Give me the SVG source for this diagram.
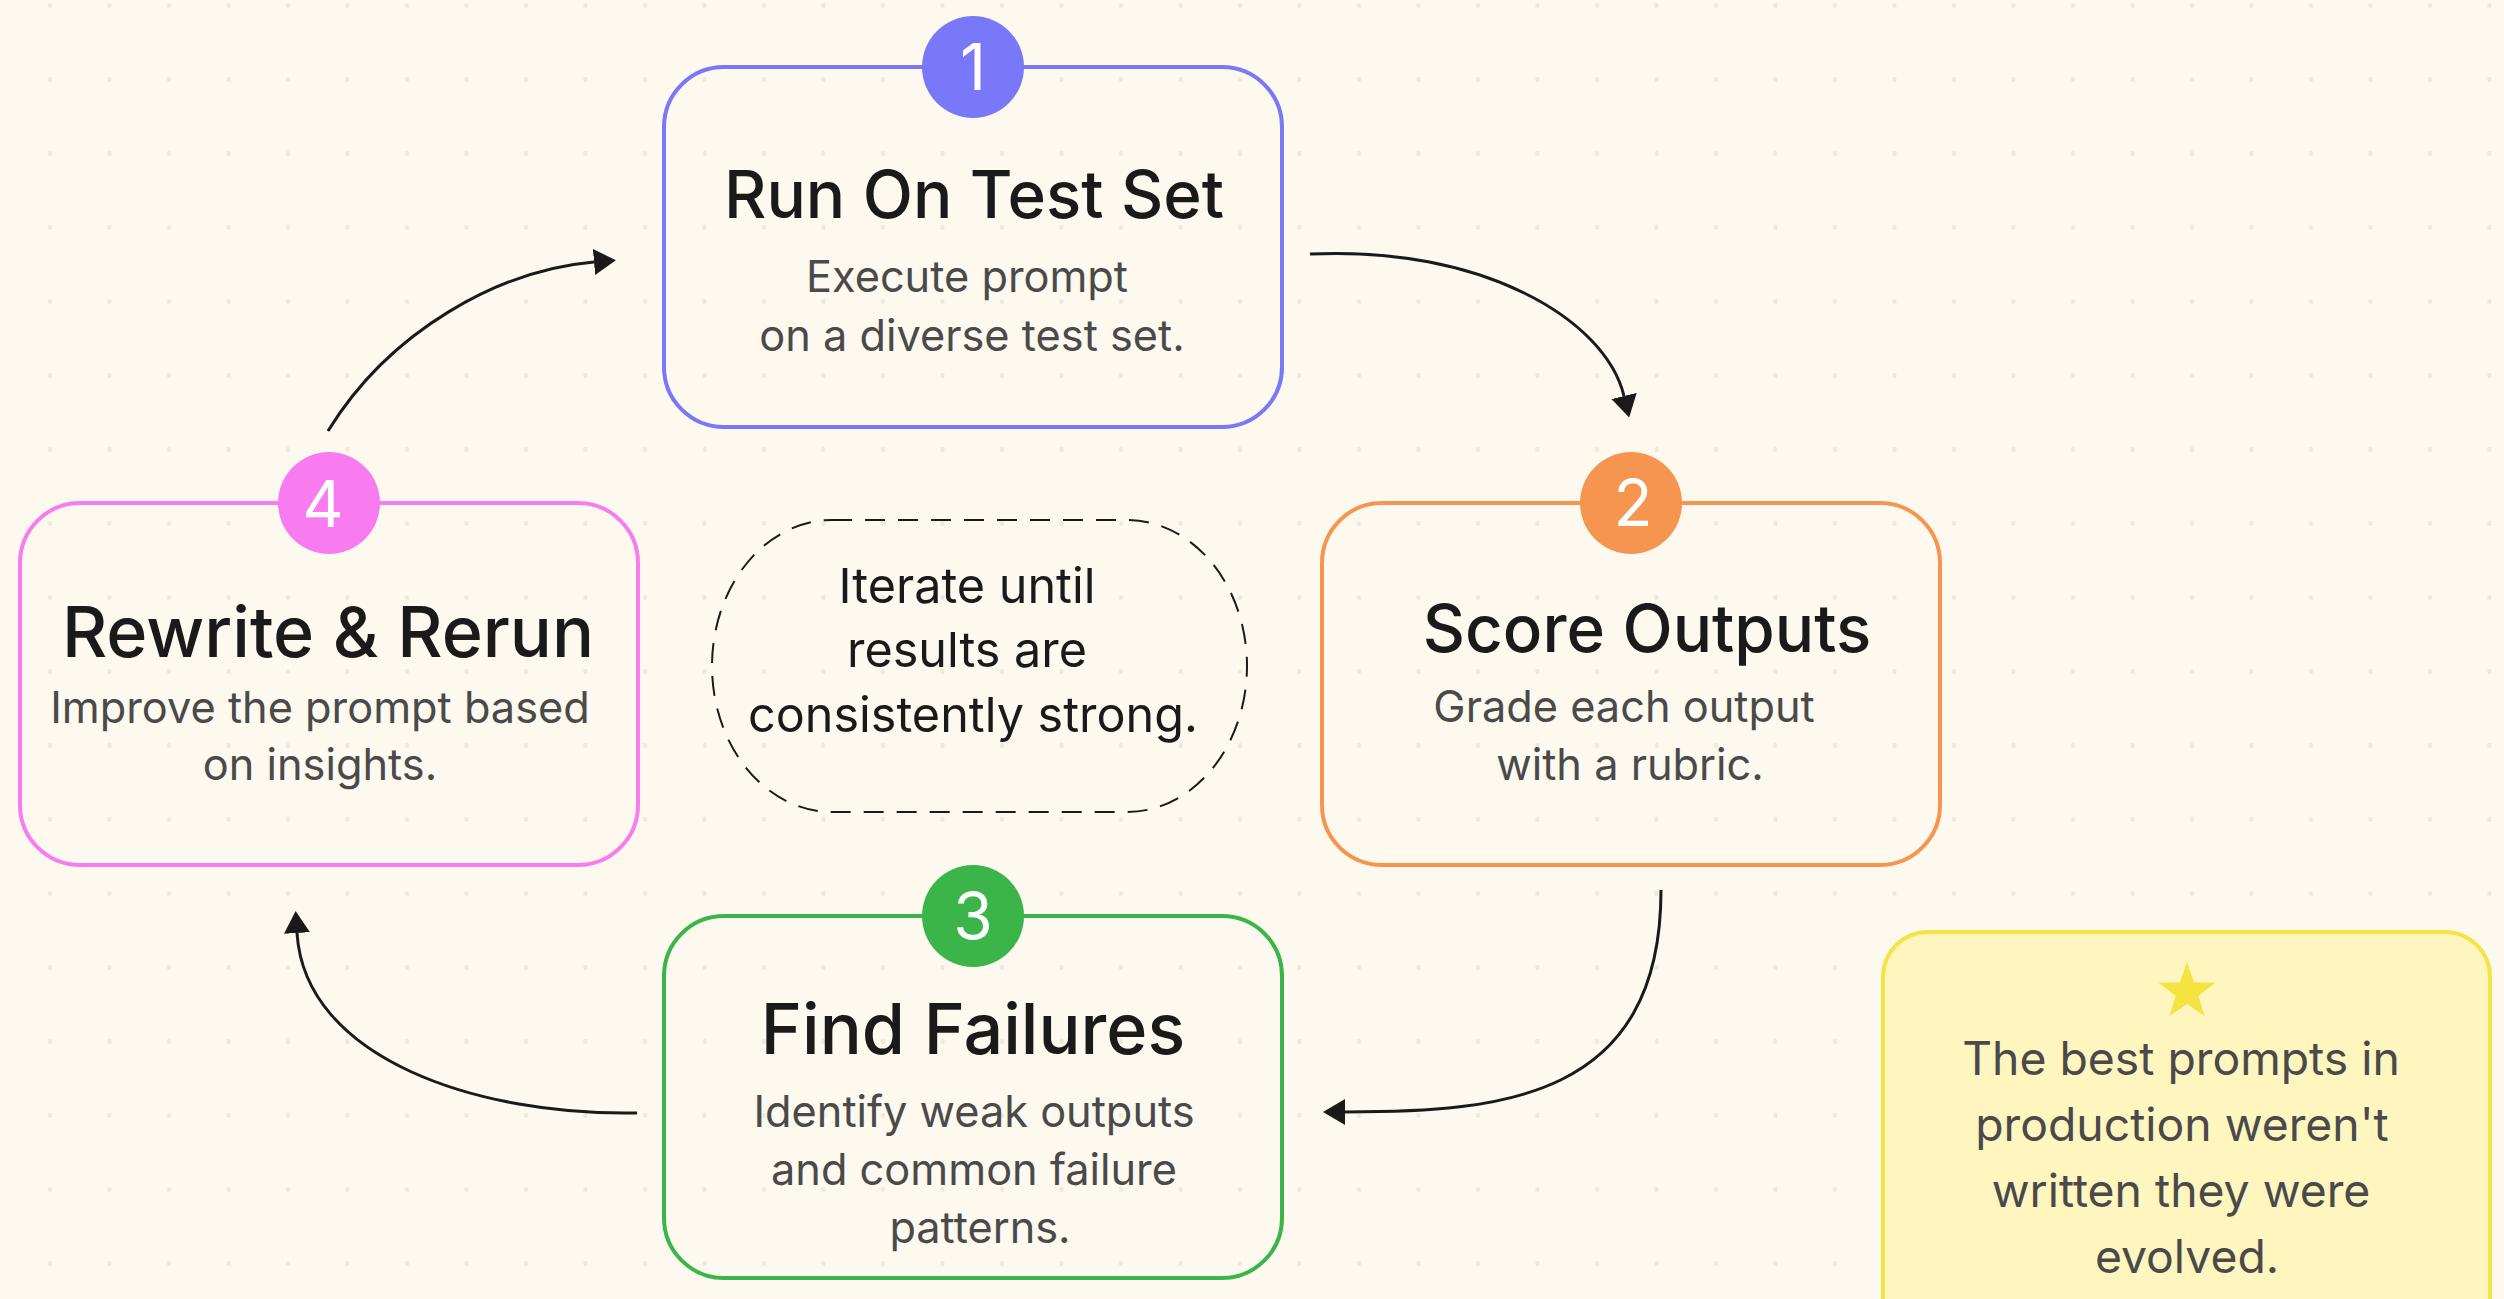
<svg xmlns="http://www.w3.org/2000/svg" width="2504" height="1299" viewBox="0 0 2504 1299">
<defs>
<pattern id="dots" x="0" y="0" width="59.5" height="74" patternUnits="userSpaceOnUse">
<rect x="48" y="3" width="4" height="5" rx="1.5" fill="#eee9de"/>
</pattern>
<marker id="ah" viewBox="0 0 22 26" refX="0" refY="13" markerWidth="22" markerHeight="26" markerUnits="userSpaceOnUse" orient="auto">
<path d="M0,0 L22,13 L0,26 Z" fill="#1a1a1a"/>
</marker>
<style>
.box{fill:none;stroke-width:4}
.title{font-family:Inter,"Noto Sans",sans-serif;font-weight:500;font-size:65.5px;fill:#1a1a1a;text-anchor:middle}
.big{font-size:70px}
.sub{font-family:Inter,"Noto Sans",sans-serif;font-size:43.3px;fill:#4a4a4a;text-anchor:middle}
.num{font-family:Inter,"Noto Sans",sans-serif;font-size:64px;fill:#ffffff;text-anchor:middle}
.mid{font-family:Inter,"Noto Sans",sans-serif;font-size:48.5px;fill:#1a1a1a;text-anchor:middle}
.note{font-family:Inter,"Noto Sans",sans-serif;font-size:46.3px;fill:#4a4a4a;text-anchor:middle}
.conn{fill:none;stroke:#1a1a1a;stroke-width:3;marker-end:url(#ah)}
</style>
</defs>
<rect width="2504" height="1299" fill="#fdf9ef"/>
<rect width="2504" height="1299" fill="url(#dots)"/>

<g id="connectors">
<path class="conn" d="M1310,254 C1480,246 1605,318 1624,396"/>
<path class="conn" d="M1661,890 C1661,1100 1500,1112 1345,1112"/>
<path class="conn" d="M637,1113 C480,1116 305,1060 297,933"/>
<path class="conn" d="M328,431 C390,330 500,270 594,262"/>
</g>

<g id="node-1">
<rect class="box" x="664" y="67" width="618" height="360" rx="60" stroke="#7878f8"/>
<circle cx="973" cy="67" r="51" fill="#7878f8"/>
<text class="num" x="973" y="90">1</text>
<text class="title" x="974" y="218">Run On Test Set</text>
<text class="sub" x="967" y="292">Execute prompt</text>
<text class="sub" x="972" y="351">on a diverse test set.</text>
</g>

<g id="node-2">
<rect class="box" x="1322" y="503" width="618" height="362" rx="60" stroke="#f69550"/>
<circle cx="1631" cy="503" r="51" fill="#f69550"/>
<text class="num" x="1633" y="526">2</text>
<text class="title" x="1647" y="652">Score Outputs</text>
<text class="sub" x="1624" y="722">Grade each output</text>
<text class="sub" x="1630" y="780">with a rubric.</text>
</g>

<g id="node-3">
<rect class="box" x="664" y="916" width="618" height="362" rx="60" stroke="#3bb54a"/>
<circle cx="973" cy="916" r="51" fill="#3bb54a"/>
<text class="num" x="973" y="939">3</text>
<text class="title big" x="973" y="1054">Find Failures</text>
<text class="sub" x="974" y="1127">Identify weak outputs</text>
<text class="sub" x="974" y="1185">and common failure</text>
<text class="sub" x="980" y="1243">patterns.</text>
</g>

<g id="node-4">
<rect class="box" x="20" y="503" width="618" height="362" rx="60" stroke="#f87cf0"/>
<circle cx="329" cy="503" r="51" fill="#f87cf0"/>
<text class="num" x="323" y="527">4</text>
<text class="title big" x="328" y="657">Rewrite &amp; Rerun</text>
<text class="sub" x="320" y="723">Improve the prompt based</text>
<text class="sub" x="320" y="780">on insights.</text>
</g>

<g id="center-note">
<rect x="712" y="520" width="535" height="292" rx="120" ry="146" fill="none" stroke="#1a1a1a" stroke-width="2" stroke-dasharray="20 13"/>
<text class="mid" x="967" y="603">Iterate until</text>
<text class="mid" x="967" y="667">results are</text>
<text class="mid" x="973" y="732">consistently strong.</text>
</g>

<g id="tip-note">
<rect x="1883" y="932" width="607" height="420" rx="45" fill="#fff5bf" stroke="#f5e445" stroke-width="4"/>
<polygon points="2187,962 2194.1,982.3 2215.5,982.7 2198.4,995.7 2204.6,1016.3 2187,1004 2169.4,1016.3 2175.6,995.7 2158.5,982.7 2179.9,982.3" fill="#f5e342"/>
<text class="note" x="2181" y="1075">The best prompts in</text>
<text class="note" x="2182" y="1141">production weren't</text>
<text class="note" x="2181" y="1207">written they were</text>
<text class="note" x="2187" y="1273">evolved.</text>
</g>
</svg>
